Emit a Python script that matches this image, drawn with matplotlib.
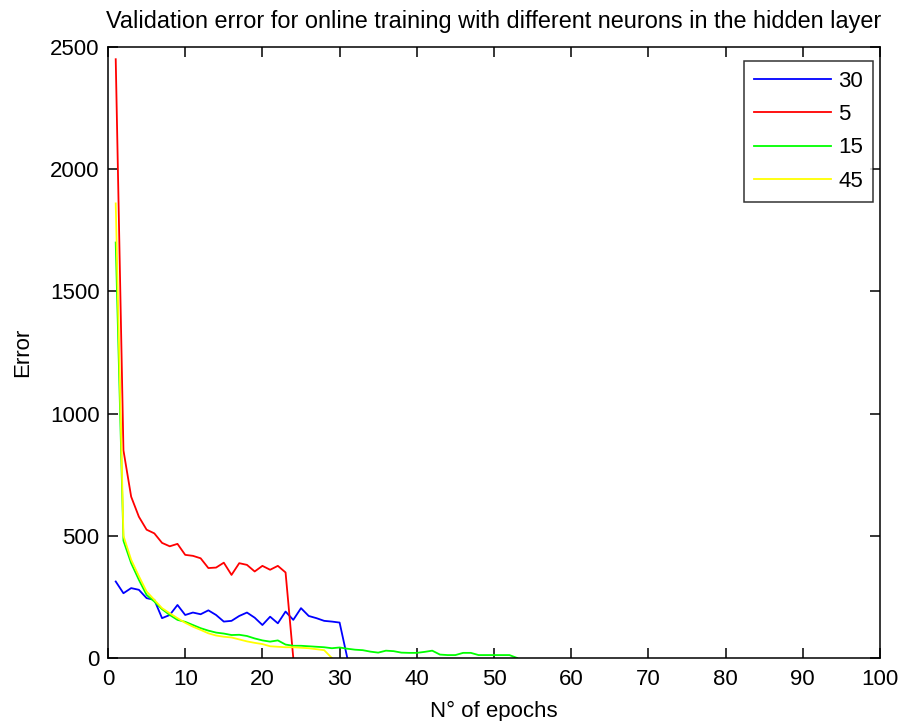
import numpy as np
import matplotlib
matplotlib.use('Agg')
import matplotlib.pyplot as plt

plt.rcParams['font.family'] = ['Liberation Sans', 'DejaVu Sans']

# validation error per epoch for each hidden-layer size
err_30 = [313, 265, 286, 279, 245, 238, 163, 176, 217, 176, 186, 179, 195, 176, 149,
          152, 172, 186, 165, 135, 169, 142, 190, 156, 204, 172, 163, 152, 149, 145, 0]
err_5 = [2450, 850, 660, 578, 525, 510, 471, 457, 467, 422, 418, 408, 368, 370, 390,
         340, 388, 381, 354, 377, 361, 377, 350, 0]
err_15 = [1700, 480, 388, 320, 258, 231, 200, 176, 156, 148, 135, 122, 112, 104, 100,
          94, 95, 90, 80, 72, 67, 72, 55, 50, 50, 48, 46, 44, 40, 43,
          38, 34, 32, 26, 22, 30, 28, 22, 21, 21, 25, 30, 14, 12, 12,
          21, 21, 12, 12, 12, 12, 12, 0]
err_45 = [1860, 500, 402, 335, 272, 238, 204, 183, 163, 144, 128, 115, 101, 92, 87,
          84, 76, 68, 62, 57, 48, 46, 44, 44, 42, 40, 36, 32, 0]

labels = ['30', '5', '15', '45']
series = [err_30, err_5, err_15, err_45]
colors = ['#0000ff', '#ff0000', '#00ff00', '#ffff00']

fig = plt.figure(figsize=(9.04, 7.21), dpi=100)
ax = fig.add_axes([108/904, 1-658/721, (880-108)/904, (658-47)/721])

for lab, vals, c in zip(labels, series, colors):
    ep = np.arange(1, len(vals)+1)
    ax.plot(ep, vals, color=c, linewidth=1.3, label=lab)

ax.set_xlim(0, 100)
ax.set_ylim(0, 2500)
ax.set_xticks(range(0, 101, 10))
ax.set_yticks(range(0, 2501, 500))

for s in ax.spines.values():
    s.set_linewidth(1.1)
ax.tick_params(direction='in', length=7, width=1.1, top=True, right=True,
               labelsize=16, pad=6)
ax.tick_params(axis='x', pad=8)

ax.set_title('Validation error for online training with different neurons in the hidden layer',
             fontsize=16.9, pad=14)
ax.set_xlabel('N° of epochs', fontsize=16, labelpad=8)
ax.set_ylabel('Error', fontsize=16, labelpad=12)

leg = ax.legend(loc='upper right', bbox_to_anchor=(873/904, 1-61/721),
                bbox_transform=fig.transFigure, borderaxespad=0,
                fontsize=16, handlelength=3.5, handletextpad=0.3,
                labelspacing=0.55, borderpad=0.45, fancybox=False)
leg.get_frame().set_edgecolor('black')
leg.get_frame().set_linewidth(1.1)

fig.savefig('out.png', dpi=100)
